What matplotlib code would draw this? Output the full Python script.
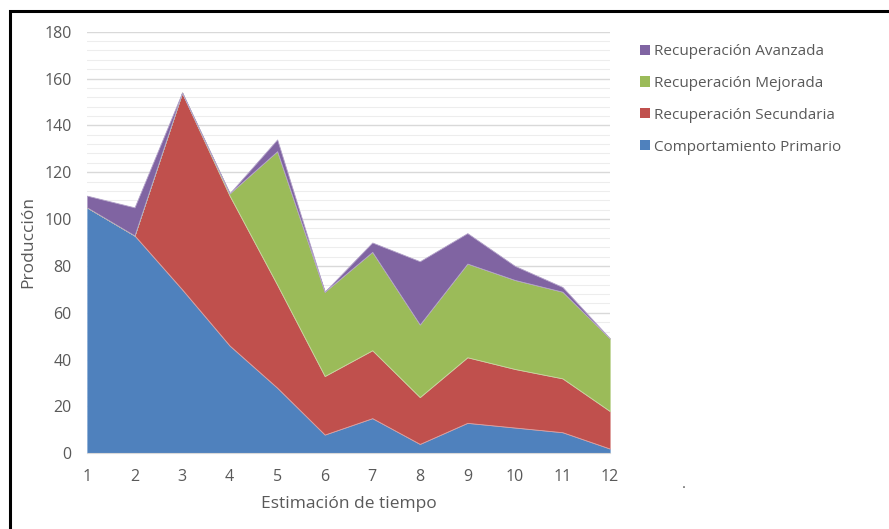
import matplotlib
matplotlib.use("Agg")
import matplotlib.pyplot as plt
from matplotlib.patches import Rectangle, Patch
import numpy as np

plt.rcParams['font.family'] = ['Open Sans', 'DejaVu Sans']

# data
periodos = [1, 2, 3, 4, 5, 6, 7, 8, 9, 10, 11, 12]
primario = [105, 93, 70, 46, 28, 8, 15, 4, 13, 11, 9, 2]
secundaria = [0, 0, 84, 64, 44, 25, 29, 20, 28, 25, 23, 16]
mejorada = [0, 0, 0, 1, 57, 36, 42, 31, 40, 38, 37, 31]
avanzada = [5, 12, 0, 0, 5, 0, 4, 27, 13, 6, 2, 0]

nombres = ['Comportamiento Primario', 'Recuperación Secundaria',
           'Recuperación Mejorada', 'Recuperación Avanzada']
colores = ['#4F81BD', '#C0504D', '#9BBB59', '#8064A2']
bordes = ['#8fb0d8', '#e0a09e', '#c6d9a0', '#b3a2c9']
gris = '#595959'

fig = plt.figure(figsize=(8.89, 5.29), dpi=100)
ax = fig.add_axes([87 / 889, 1 - 453.3 / 529, (610 - 87) / 889, (453.3 - 31.7) / 529])

polys = ax.stackplot(periodos, primario, secundaria, mejorada, avanzada,
                     colors=colores, labels=nombres, zorder=2)
for p, b in zip(polys, bordes):
    p.set_edgecolor(b)
    p.set_linewidth(0.6)

ax.set_xlim(1, 12)
ax.set_ylim(0, 180)
ax.set_xticks(periodos)
ax.set_yticks(np.arange(0, 181, 20))
ax.set_yticks(np.arange(0, 181, 4), minor=True)
ax.grid(which='major', axis='y', color='#d9d9d9', linewidth=1.0, zorder=0)
ax.grid(which='minor', axis='y', color='#ededed', linewidth=0.8, zorder=0)
ax.set_axisbelow(True)
ax.tick_params(which='both', length=0, colors=gris, labelsize=11.5)
ax.tick_params(axis='x', pad=11)
ax.tick_params(axis='y', pad=11)
for s in ['top', 'right', 'left']:
    ax.spines[s].set_visible(False)
ax.spines['bottom'].set_color('#d9d9d9')

ax.set_ylabel('Producción', color=gris, fontsize=12.5)
ax.yaxis.set_label_coords((36 - 87) / 523, 0.5)
ax.set_xlabel('Estimación de tiempo', color=gris, fontsize=12.5)
ax.xaxis.set_label_coords(0.5, -(496 - 453.3) / 421.6)

handles = [Patch(facecolor=c) for c in colores][::-1]
leg = ax.legend(handles, nombres[::-1], loc='upper left',
                bbox_to_anchor=(634 / 889, 1 - 38 / 529), bbox_transform=fig.transFigure,
                frameon=False, fontsize=11, handlelength=0.65, handleheight=0.65,
                handletextpad=0.25, labelspacing=1.1, borderaxespad=0)
for t in leg.get_texts():
    t.set_color(gris)

fig.text(684 / 889, 1 - 484 / 529, '.', color=gris, fontsize=11, ha='center', va='center')

# outer frame of the chart object
fig.patches.append(Rectangle((10 / 889, -0.1), 1.2, 1.1 - 11 / 529, transform=fig.transFigure,
                             fill=False, edgecolor='black', linewidth=2.2))

fig.savefig('out.png', dpi=100)
